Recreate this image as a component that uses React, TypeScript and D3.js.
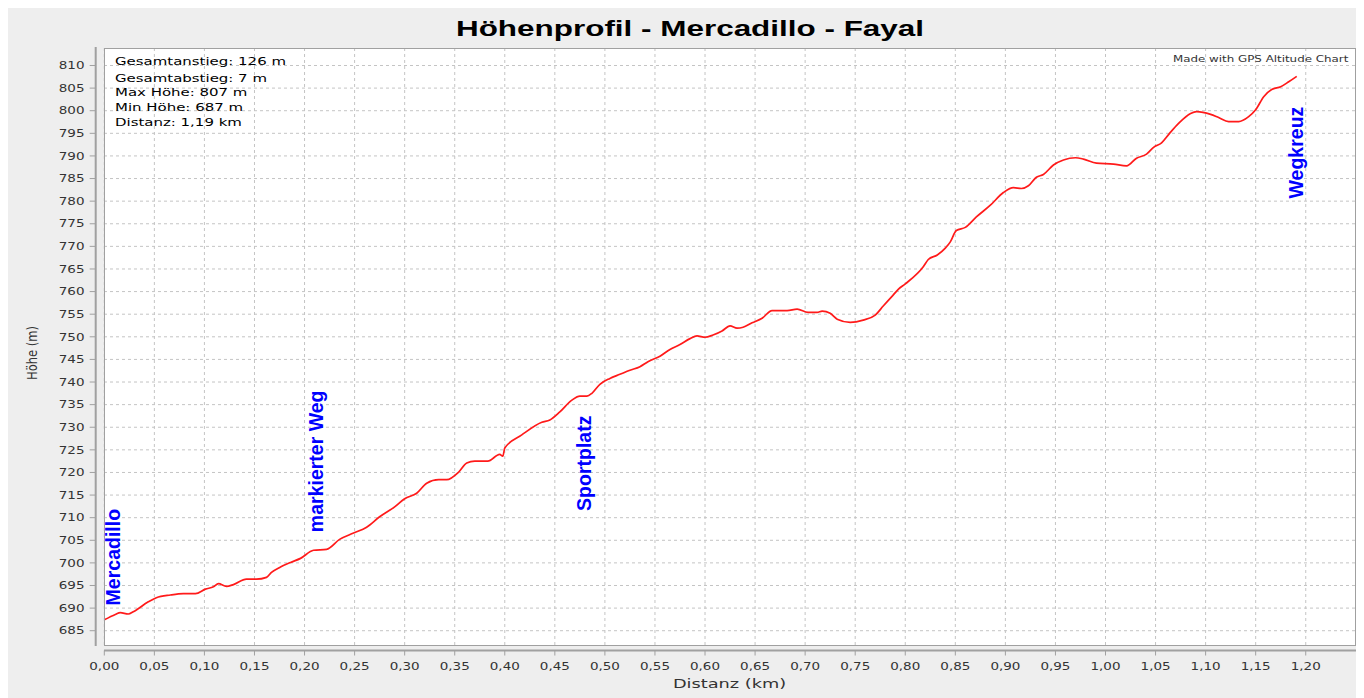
import React from "react";
import * as d3 from "d3";

const distances = [
  0.0, 0.011, 0.016, 0.024, 0.029, 0.044, 0.052, 0.066, 0.079, 0.091, 0.101, 0.109, 0.114, 0.122, 0.129,
  0.142, 0.152, 0.162, 0.167, 0.176, 0.186, 0.196, 0.209, 0.222, 0.235, 0.249, 0.262, 0.275, 0.29, 0.3,
  0.312, 0.322, 0.334, 0.342, 0.354, 0.362, 0.37, 0.383, 0.395, 0.398, 0.4, 0.417, 0.437, 0.445, 0.455,
  0.467, 0.475, 0.482, 0.487, 0.495, 0.505, 0.515, 0.525, 0.535, 0.543, 0.555, 0.565, 0.575, 0.585, 0.592,
  0.6, 0.608, 0.617, 0.625, 0.632, 0.638, 0.647, 0.657, 0.667, 0.682, 0.692, 0.703, 0.712, 0.717, 0.725,
  0.732, 0.745, 0.758, 0.77, 0.778, 0.787, 0.793, 0.8, 0.818, 0.823, 0.832, 0.84, 0.845, 0.851, 0.86,
  0.871, 0.885, 0.898, 0.908, 0.916, 0.923, 0.931, 0.938, 0.948, 0.958, 0.97, 0.978, 0.991, 1.008, 1.021,
  1.031, 1.041, 1.048, 1.056, 1.064, 1.073, 1.085, 1.091, 1.105, 1.113, 1.123, 1.133, 1.143, 1.15, 1.158,
  1.166, 1.175, 1.183, 1.191,
];
const elevations = [
  687.4, 688.6, 689.0, 688.7, 689.2, 691.4, 692.3, 692.9, 693.2, 693.2, 694.2, 694.7, 695.4, 694.8, 695.2,
  696.4, 696.4, 696.8, 697.9, 699.1, 700.1, 701.0, 702.8, 703.0, 705.2, 706.6, 707.9, 710.2, 712.4, 714.2,
  715.4, 717.6, 718.4, 718.4, 720.1, 722.1, 722.5, 722.5, 724.0, 723.6, 725.4, 728.3, 731.1, 731.6, 733.4,
  736.0, 736.9, 736.9, 737.5, 739.5, 740.8, 741.7, 742.6, 743.4, 744.5, 745.7, 747.2, 748.3, 749.6, 750.2,
  749.9, 750.4, 751.3, 752.4, 751.9, 752.1, 753.1, 754.1, 755.8, 755.8, 756.1, 755.4, 755.4, 755.7, 755.2,
  753.9, 753.2, 753.7, 754.8, 756.8, 759.0, 760.5, 761.7, 765.5, 767.1, 768.1, 769.6, 771.0, 773.5, 774.2,
  776.5, 779.1, 781.9, 783.0, 782.8, 783.4, 785.3, 785.9, 788.0, 789.1, 789.6, 789.3, 788.4, 788.2, 787.8,
  789.5, 790.4, 791.9, 792.9, 795.0, 797.2, 799.4, 799.8, 799.2, 798.5, 797.6, 797.6, 798.7, 800.2, 803.1,
  804.7, 805.3, 806.4, 807.6,
];

const waypointNames = ["Mercadillo", "markierter Weg", "Sportplatz", "Wegkreuz"];
const waypointDistances = [0.009, 0.211, 0.479, 1.19];
const waypointLabelBase = [690.6, 706.8, 711.5, 780.6];

const statsLines = [
  "Gesamtanstieg: 126 m",
  "Gesamtabstieg: 7 m",
  "Max Höhe: 807 m",
  "Min Höhe: 687 m",
  "Distanz: 1,19 km",
];

const title = "Höhenprofil - Mercadillo - Fayal";
const xTitle = "Distanz (km)";
const yTitle = "Höhe (m)";
const credit = "Made with GPS Altitude Chart";

const xTicks = d3.range(0, 25).map((i) => i * 0.05);
const yTicks = d3.range(685, 811, 5);

const W = 1356;
const H = 690;
const plotL = 96;
const plotR = 1348;
const plotT = 40;
const plotB = 638;

const sans = "'DejaVu Sans', sans-serif";
const arial = "'Liberation Sans', Arial, sans-serif";

export default function App() {
  const x = d3.scaleLinear().domain([0, 1.25]).range([96.3, 1347.8]);
  const y = d3.scaleLinear().domain([681.62, 813.87]).range([plotB, plotT]);
  const fmt = (v: number) => d3.format(".2f")(v).replace(".", ",");

  const pts = distances.map((d, i) => [d, elevations[i]] as [number, number]);
  const line = d3
    .line<[number, number]>()
    .x((p) => x(p[0]))
    .y((p) => y(p[1]))
    .curve(d3.curveMonotoneX);

  const S = 1.36;
  const axisY = 642.5;
  const axisX = 87.7;

  return (
    <svg width={W} height={H} style={{ display: "block" }}>
      <rect x={0} y={0} width={W} height={H} fill="#eeeeee" />
      <text
        transform={`translate(682,27.7) scale(1.43,1)`}
        textAnchor="middle"
        fontFamily={arial}
        fontWeight="bold"
        fontSize={22}
        fill="#000"
      >
        {title}
      </text>

      <rect x={plotL} y={plotT} width={plotR - plotL} height={plotB - plotT} fill="#ffffff" />

      {xTicks.map((t, i) => (
        <line
          key={"gx" + i}
          x1={x(t)}
          x2={x(t)}
          y1={plotT}
          y2={plotB}
          stroke="#c4c4c4"
          strokeWidth={1}
          strokeDasharray="3,3"
        />
      ))}
      {yTicks.map((t, i) => (
        <line
          key={"gy" + i}
          x1={plotL}
          x2={plotR}
          y1={y(t)}
          y2={y(t)}
          stroke="#c4c4c4"
          strokeWidth={1}
          strokeDasharray="3,3"
        />
      ))}

      <path d={line(pts) || ""} fill="none" stroke="#ff1a1a" strokeWidth={1.7} strokeLinejoin="round" />

      <rect
        x={plotL + 0.5}
        y={plotT + 0.5}
        width={plotR - plotL - 1}
        height={plotB - plotT - 1}
        fill="none"
        stroke="#a0a0a0"
        strokeWidth={1}
      />

      {waypointNames.map((n, i) => (
        <text
          key={"wp" + i}
          transform={`translate(${x(waypointDistances[i]) + 7},${y(waypointLabelBase[i])}) rotate(-90)`}
          fontFamily={arial}
          fontWeight="bold"
          fontSize={19.5}
          fill="#0000ff"
        >
          {n}
        </text>
      ))}

      {statsLines.map((s, i) => (
        <text
          key={"st" + i}
          transform={`translate(107,${[57, 73.5, 88, 103, 118][i]}) scale(${S},1)`}
          fontFamily={sans}
          fontSize={11}
          fill="#000"
        >
          {s}
        </text>
      ))}

      <text
        transform={`translate(1340.3,54.3) scale(1.32,1)`}
        textAnchor="end"
        fontFamily={sans}
        fontSize={9}
        fill="#333"
      >
        {credit}
      </text>

      {/* Y axis */}
      <line x1={axisX} x2={axisX} y1={plotT - 1} y2={plotB} stroke="#a0a0a0" strokeWidth={2} />
      {yTicks.map((t, i) => (
        <g key={"yt" + i}>
          <line x1={axisX - 6} x2={axisX} y1={y(t)} y2={y(t)} stroke="#a0a0a0" strokeWidth={1} />
          <text
            transform={`translate(76.5,${y(t) + 3.7}) scale(1.35,1)`}
            textAnchor="end"
            fontFamily={sans}
            fontSize={10}
            fill="#333"
          >
            {t}
          </text>
        </g>
      ))}

      {/* X axis */}
      <line x1={plotL} x2={plotR} y1={axisY} y2={axisY} stroke="#a0a0a0" strokeWidth={2} />
      {xTicks.map((t, i) => (
        <g key={"xt" + i}>
          <line x1={x(t)} x2={x(t)} y1={axisY} y2={axisY + 5} stroke="#a0a0a0" strokeWidth={1} />
          <text
            transform={`translate(${x(t)},662) scale(1.35,1)`}
            textAnchor="middle"
            fontFamily={sans}
            fontSize={10}
            fill="#333"
          >
            {fmt(t)}
          </text>
        </g>
      ))}

      <text
        transform={`translate(721.5,680.3) scale(1.42,1)`}
        textAnchor="middle"
        fontFamily={sans}
        fontSize={12.5}
        fill="#333"
      >
        {xTitle}
      </text>
      <text
        transform={`translate(29,345) scale(1.15,1) rotate(-90)`}
        textAnchor="middle"
        fontFamily={sans}
        fontSize={11.5}
        fill="#333"
      >
        {yTitle}
      </text>
    </svg>
  );
}
